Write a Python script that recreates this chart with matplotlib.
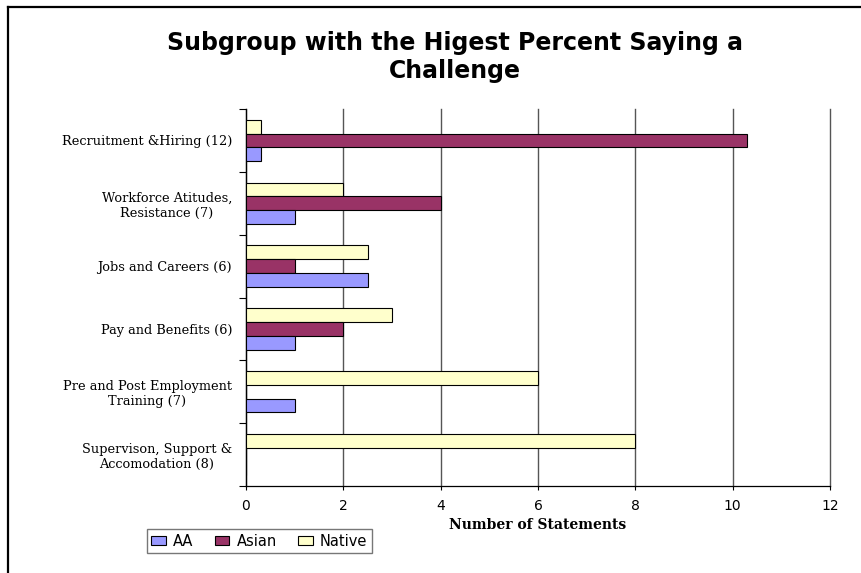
import matplotlib
matplotlib.use("Agg")
import matplotlib.pyplot as plt
import numpy as np
from matplotlib.lines import Line2D
from matplotlib.patches import Patch

categories = [
    "Recruitment &Hiring (12)",
    "Workforce Atitudes,\nResistance (7)",
    "Jobs and Careers (6)",
    "Pay and Benefits (6)",
    "Pre and Post Employment\nTraining (7)",
    "Supervison, Support &\nAccomodation (8)",
]
aa = [0.3, 1, 2.5, 1, 1, 0]
asian = [10.3, 4, 1, 2, 0, 0]
native = [0.3, 2, 2.5, 3, 6, 8]
series_names = ["AA", "Asian", "Native"]
colors = ["#9999FF", "#993366", "#FFFFCC"]
xticks = [0, 2, 4, 6, 8, 10, 12]

W, H = 862, 573
fig = plt.figure(figsize=(W / 100, H / 100), dpi=100)
ax = fig.add_axes([246 / W, 1 - 486 / H, (830 - 246) / W, (486 - 109) / H])

n = len(categories)
y = np.arange(n)[::-1].astype(float)
h = 0.22
for vals, off, c in [(native, h, colors[2]), (asian, 0.0, colors[1]), (aa, -h, colors[0])]:
    ax.barh(y + off, vals, height=h, color=c, edgecolor="black", linewidth=0.8, zorder=3)

ax.set_xlim(0, 12)
ax.set_ylim(-0.5, n - 0.5)
ax.set_xticks(xticks)
ax.set_xticklabels([str(t) for t in xticks], fontsize=10, family="DejaVu Sans")
ax.tick_params(axis="x", length=3, width=0.8, color="black", pad=6)
ax.xaxis.grid(True, color="#555555", linewidth=1.0, zorder=0)
for gl in ax.get_xgridlines():
    gl.set_clip_on(False)

ax.set_yticks(y)
ax.set_yticklabels(categories, fontsize=9.3, family="DejaVu Serif")
for lbl in ax.get_yticklabels():
    lbl.set_multialignment("center")
ax.tick_params(axis="y", which="major", length=0, pad=10)
ax.set_yticks(np.arange(-0.5, n, 1.0), minor=True)
ax.tick_params(axis="y", which="minor", length=5, width=0.8, color="black")

for s in ["top", "right"]:
    ax.spines[s].set_visible(False)
ax.spines["left"].set_linewidth(0.9)
ax.spines["bottom"].set_linewidth(0.9)

ax.set_xlabel("Number of Statements", fontsize=10, family="DejaVu Serif",
              fontweight="bold", labelpad=4)

fig.text(455 / W, 1 - 57 / H, "Subgroup with the Higest Percent Saying a\nChallenge",
         ha="center", va="center", fontsize=17, fontweight="bold",
         family="DejaVu Sans", linespacing=1.25)

handles = [Patch(facecolor=c, edgecolor="black", linewidth=0.8) for c in colors]
leg = fig.legend(handles, series_names, loc="lower left",
                 bbox_to_anchor=(147 / W, 1 - 553 / H), ncol=3, frameon=True,
                 fancybox=False, edgecolor="#555555", prop={"family": "DejaVu Sans", "size": 10.5},
                 handlelength=1.0, handleheight=0.6, handletextpad=0.5, columnspacing=1.45,
                 borderpad=0.3, borderaxespad=0)
leg.get_frame().set_linewidth(1.0)

fig.add_artist(Line2D([8 / W, 8 / W], [0, 1 - 7 / H], color="black", linewidth=1.6,
                      transform=fig.transFigure))
fig.add_artist(Line2D([8 / W, 1], [1 - 7 / H, 1 - 7 / H], color="black", linewidth=1.6,
                      transform=fig.transFigure))

fig.savefig("out.png", dpi=100)
